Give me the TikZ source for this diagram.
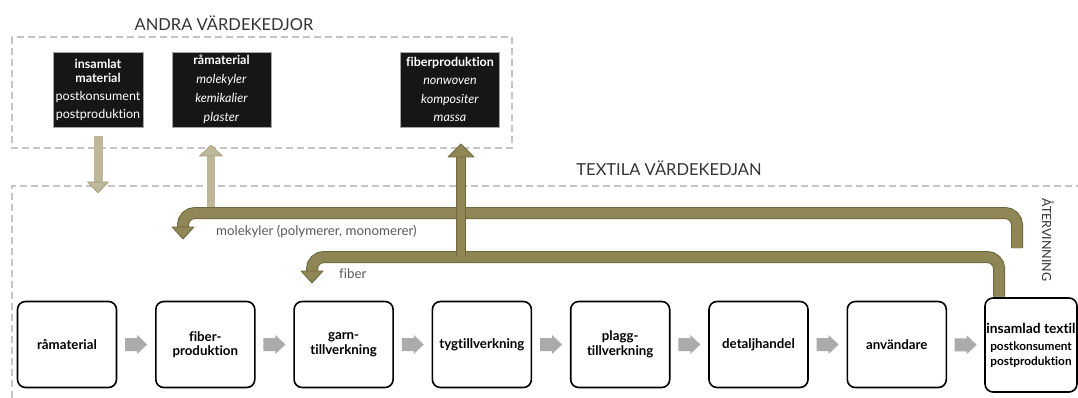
\documentclass[tikz,border=0pt]{standalone}
\usepackage{fontspec}
\setmainfont{Lato}[Ligatures=NoCommon]
\usetikzlibrary{calc}
\definecolor{dashgray}{HTML}{C4C4C4}
\definecolor{boxblack}{HTML}{161616}
\definecolor{oliveband}{HTML}{8F8655}
\definecolor{oliveedge}{HTML}{6E683F}
\definecolor{khaki}{HTML}{BEB79A}
\definecolor{khakiedge}{HTML}{A39C7E}
\definecolor{titlegray}{HTML}{333333}
\definecolor{lblgray}{HTML}{595959}
\definecolor{arrgray}{HTML}{ABABAB}
\begin{document}
\begin{tikzpicture}[x=1pt,y=-1pt,
  dashbox/.style={draw=dashgray, line width=2.5pt, dash pattern=on 7pt off 4pt},
  blackbox/.style={fill=boxblack, draw=gray!70, line width=0.6pt, text=white, align=center,
    minimum height=75pt, inner sep=0pt, font=\fontsize{12.5}{14}\selectfont},
  procbox/.style={draw=black, line width=1.6pt, rounded corners=8pt, fill=white,
    minimum width=99pt, minimum height=86pt, align=center, inner sep=0pt,
    font=\bfseries\fontsize{13.3}{14.5}\selectfont},
  titletext/.style={text=titlegray, font=\fontsize{16.5}{18}\selectfont},
  lbl/.style={text=lblgray, font=\fontsize{13.3}{15}\selectfont, anchor=west, inner sep=0pt},
  grayarr/.style={fill=arrgray},
  bandedge/.style={draw=oliveedge, line width=12pt, rounded corners=12pt},
  bandfill/.style={draw=oliveband, line width=10pt, rounded corners=12pt},
  headdark/.style={fill=oliveband, draw=oliveedge, line width=0.8pt, line join=round},
  headlight/.style={fill=khaki, draw=khakiedge, line width=0.6pt, line join=round},
]
\useasboundingbox (0,0) rectangle (1078,398);

% dashed frames
\draw[dashbox] (12,37) rectangle (512,148);
\draw[dashbox] (12,398) -- (12,186) -- (1078,186);
\node[titletext] (t1) at (224,23) {ANDRA VÄRDEKEDJOR};
\node[titletext] (t2) at (669,168) {TEXTILA VÄRDEKEDJAN};
\node[text=titlegray, font=\fontsize{12.5}{14}\selectfont, rotate=-90] (atv) at (1048,240) {ÅTERVINNING};

% black boxes
\node[blackbox, minimum width=90pt] (ins) at (98,89.5)
  {\textbf{insamlat}\\\textbf{material}\\[4pt]postkonsument\\[4pt]postproduktion};
\node[blackbox, minimum width=99pt, font=\fontsize{12.5}{19}\selectfont] (raw) at (221.5,89.5)
  {\textbf{råmaterial}\\\textit{molekyler}\\\textit{kemikalier}\\\textit{plaster}};
\node[blackbox, minimum width=99pt, font=\fontsize{12.5}{18.5}\selectfont] (fib) at (450,89.5)
  {\textbf{fiberproduktion}\\\textit{nonwoven}\\\textit{kompositer}\\\textit{massa}};

% process boxes
\node[procbox] (p1) at (67,344.5) {råmaterial};
\node[procbox] (p2) at (205.3,344.5) {fiber-\\produktion};
\node[procbox] (p3) at (343.6,344.5) {garn-\\tillverkning};
\node[procbox] (p4) at (481.9,344.5) {tygtillverkning};
\node[procbox] (p5) at (620.2,344.5) {plagg-\\tillverkning};
\node[procbox] (p6) at (758.5,344.5) {detaljhandel};
\node[procbox] (p7) at (896.8,344.5) {användare};
\node[procbox, minimum width=92pt, minimum height=94pt] (p8) at (1031,345)
  {\fontsize{13.8}{15}\selectfont insamlad textil\\[3pt]
   \fontsize{11.8}{14.5}\selectfont postkonsument\\\fontsize{11.8}{14.5}\selectfont postproduktion};

% gray arrows between process boxes
\foreach \a/\b in {p1/p2,p2/p3,p3/p4,p4/p5,p5/p6,p6/p7,p7/p8} {
  \coordinate (m) at ($(\a.east)!0.5!(\b.west)$);
  \fill[grayarr] ($(m)+(-11,-6.5)$) -- ($(m)+(1,-6.5)$) -- ($(m)+(1,-9.5)$) -- ($(m)+(11,0)$)
    -- ($(m)+(1,9.5)$) -- ($(m)+(1,6.5)$) -- ($(m)+(-11,6.5)$) -- cycle;
}

% light arrows
\coordinate (dtop) at (98,136);
\coordinate (dbase) at (98,182);
\coordinate (dtip) at (98,193);
\draw[khaki, line width=9pt] (dtop) -- (dbase);
\fill[headlight] ($(dbase)+(-10.5,0)$) -- ($(dbase)+(10.5,0)$) -- (dtip) -- cycle;

\coordinate (ustart) at (211,213);
\coordinate (ubase) at (211,156);
\coordinate (utip) at (211,145);
\draw[khaki, line width=8pt] (ustart) -- (ubase);
\fill[headlight] ($(ubase)+(-11.5,0)$) -- ($(ubase)+(11.5,0)$) -- (utip) -- cycle;

% molekyler band
\coordinate (molstart) at (1017,248);
\coordinate (molturn) at (183,213);
\coordinate (molbase) at (183,227);
\coordinate (moltip) at (183,239);
\draw[bandedge] (molstart) |- (molturn) -- (molbase);
\draw[bandfill] (molstart) |- (molturn) -- (molbase);
\fill[headdark] ($(molbase)+(-11,0)$) -- ($(molbase)+(11,0)$) -- (moltip) -- cycle;

% fiber band
\coordinate (fibstart) at ($(p8.north west)+(15,-0.5)$);
\coordinate (fibturn) at (312,257);
\coordinate (fibbase) at (312,271);
\coordinate (fibtip) at (312,283);
\draw[bandedge] (fibstart) |- (fibturn) -- (fibbase);
\draw[bandfill] (fibstart) |- (fibturn) -- (fibbase);
\fill[headdark] ($(fibbase)+(-11,0)$) -- ($(fibbase)+(11,0)$) -- (fibtip) -- cycle;

% dark up arrow to fiberproduktion
\coordinate (vstart) at (461,257);
\coordinate (vbase) at (461,157);
\coordinate (vtip) at (461,144);
\draw[oliveedge, line width=10pt] (vstart) -- (vbase);
\draw[oliveband, line width=8.5pt] (vstart) -- (vbase);
\fill[headdark] ($(vbase)+(-13,0)$) -- ($(vbase)+(13,0)$) -- (vtip) -- cycle;

% labels
\node[lbl] (lmol) at (216,231) {molekyler (polymerer, monomerer)};
\node[lbl] (lfib) at (339,274) {fiber};
\end{tikzpicture}
\end{document}
